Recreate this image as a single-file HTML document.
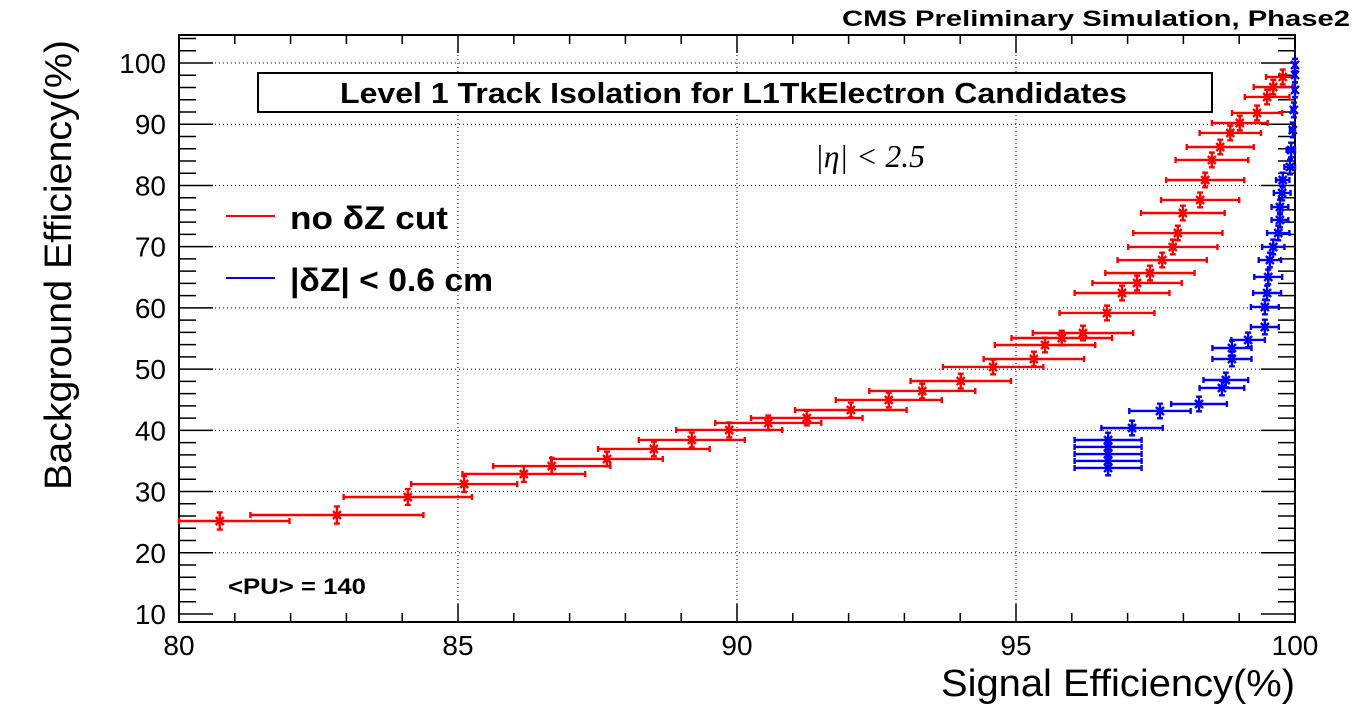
<!DOCTYPE html>
<html><head><meta charset="utf-8"><style>
html,body{margin:0;padding:0;background:#fff;}
svg{display:block;font-family:"Liberation Sans",sans-serif;}
</style></head><body>
<svg id="chart" width="1362" height="716" viewBox="0 0 1362 716">
<text x="842" y="26" textLength="508" lengthAdjust="spacingAndGlyphs" font-size="22" font-weight="bold">CMS Preliminary Simulation, Phase2</text>
<g id="grid"></g>
<g id="axes"></g>
<g id="marks"></g>
<rect x="258" y="73" width="954" height="39" fill="#fff" stroke="#000" stroke-width="2"/>
<text x="340" y="103" textLength="787" lengthAdjust="spacingAndGlyphs" font-size="29" font-weight="bold">Level 1 Track Isolation for L1TkElectron Candidates</text>
<text x="815" y="167" textLength="110" lengthAdjust="spacingAndGlyphs" font-family="Liberation Serif,serif" font-style="italic" font-size="32">|η| &lt; 2.5</text>
<line x1="226" y1="216" x2="275" y2="216" stroke="#f00" stroke-width="2"/>
<text x="290" y="229" textLength="158" lengthAdjust="spacingAndGlyphs" font-size="32" font-weight="bold">no  δZ cut</text>
<line x1="226" y1="278" x2="275" y2="278" stroke="#00f" stroke-width="2"/>
<text x="290" y="291" textLength="203" lengthAdjust="spacingAndGlyphs" font-size="32" font-weight="bold">|δZ| &lt; 0.6 cm</text>
<text x="228" y="594" textLength="138" lengthAdjust="spacingAndGlyphs" font-size="22" font-weight="bold">&lt;PU&gt; = 140</text>
<text transform="translate(71,265) rotate(-90)" text-anchor="middle" textLength="450" lengthAdjust="spacingAndGlyphs" font-size="38">Background Efficiency(%)</text>
<text x="941" y="696" textLength="354" lengthAdjust="spacingAndGlyphs" font-size="38">Signal Efficiency(%)</text>
</svg>
<script>
const xTicks=[80,85,90,95,100];
const yTicks=[10,20,30,40,50,60,70,80,90,100];
const redX=[80.73,82.83,84.10,85.11,86.18,86.68,87.67,88.51,89.19,89.86,90.56,91.25,92.04,92.72,93.32,94.01,94.59,95.32,95.52,95.82,96.20,96.63,96.90,97.17,97.40,97.62,97.81,97.90,97.99,98.30,98.39,98.51,98.66,98.84,99.01,99.32,99.50,99.61,99.78];
const redY=[25.19,26.17,29.11,31.23,32.87,34.17,35.32,36.96,38.43,40.06,41.21,42.02,43.32,44.96,46.43,48.06,50.35,51.65,53.94,55.08,55.90,59.17,62.43,64.07,65.70,67.82,69.95,72.23,75.50,77.63,80.89,84.16,86.28,88.57,90.20,91.84,94.45,96.08,97.72];
const redXErr=[1.25,1.55,1.15,0.95,1.1,1.05,1.0,1.0,0.95,0.95,0.95,1.0,1.0,0.95,0.95,0.9,0.9,0.9,0.9,0.9,0.9,0.85,0.85,0.8,0.8,0.8,0.8,0.8,0.75,0.7,0.7,0.65,0.6,0.55,0.5,0.45,0.4,0.35,0.3];
const redYErr=[1.4,1.4,1.3,1.3,1.3,1.3,1.2,1.2,1.2,1.2,1.2,1.2,1.2,1.2,1.2,1.2,1.2,1.2,1.2,1.2,1.2,1.2,1.2,1.2,1.2,1.2,1.2,1.2,1.2,1.2,1.2,1.2,1.2,1.2,1.2,1.2,1.2,1.2,1.2];
const blueX=[96.65,96.65,96.65,96.65,96.65,97.08,97.58,98.28,98.69,98.76,98.87,98.87,99.16,99.46,99.46,99.50,99.52,99.55,99.61,99.70,99.73,99.73,99.77,99.78,99.91,99.93,99.96,99.98,100,100,100];
const blueY=[33.85,35.0,36.13,37.28,38.42,40.38,43.16,44.30,46.92,48.22,51.65,53.45,54.76,56.88,60.15,62.43,65.05,67.82,69.95,72.23,74.36,76.48,78.77,80.89,83.02,85.79,89.06,92.33,95.6,98.05,99.68];
const blueXErr=[0.6,0.6,0.6,0.6,0.6,0.55,0.55,0.5,0.4,0.4,0.35,0.35,0.3,0.25,0.25,0.25,0.25,0.2,0.2,0.2,0.15,0.15,0.15,0.12,0.1,0.08,0.05,0.04,0.03,0.02,0.02];
const blueYErr=[1.2,1.2,1.2,1.2,1.2,1.2,1.2,1.2,1.2,1.2,1.2,1.2,1.2,1.2,1.2,1.2,1.2,1.2,1.2,1.2,1.2,1.2,1.2,1.2,1.2,1.2,1.2,1.2,1.2,1.2,1.0];

const L=179,R=1295,T=35,B=622;
function X(v){return L+(v-80)*(R-L)/20;}
function Y(v){return 614-(v-10)*(614-63)/90;}
const NS='http://www.w3.org/2000/svg';
function mk(tag,attrs,parent){const e=document.createElementNS(NS,tag);for(const k in attrs)e.setAttribute(k,attrs[k]);parent.appendChild(e);return e;}
const grid=document.getElementById('grid'),axes=document.getElementById('axes'),marks=document.getElementById('marks');
xTicks.forEach(t=>{if(t>80&&t<100){const g=mk('line',{x1:X(t),x2:X(t),y1:T,y2:B,stroke:'#000','stroke-width':1,'stroke-dasharray':'1 3'},grid);

}});
yTicks.forEach(t=>{if(t>10){const g=mk('line',{x1:L,x2:R,y1:Y(t),y2:Y(t),stroke:'#000','stroke-width':1,'stroke-dasharray':'1 3'},grid);

}});
const frame=mk('rect',{x:L,y:T,width:R-L,height:B-T,fill:'none',stroke:'#000','stroke-width':2},axes);


for(let v=80;v<=100;v+=1){const major=v%5===0;const len=major?18:9;
mk('line',{x1:X(v),x2:X(v),y1:B,y2:B-len,stroke:'#000','stroke-width':1.5},axes);
mk('line',{x1:X(v),x2:X(v),y1:T,y2:T+len,stroke:'#000','stroke-width':1.5},axes);}
xTicks.forEach(t=>{const tx=mk('text',{x:X(t),y:655,'text-anchor':'middle','font-size':28},axes);tx.textContent=t;

});
for(let v=10;v<=104;v+=2){const major=v%10===0;const len=major?34:17;
mk('line',{x1:L,x2:L+len,y1:Y(v),y2:Y(v),stroke:'#000','stroke-width':1.5},axes);
mk('line',{x1:R,x2:R-len,y1:Y(v),y2:Y(v),stroke:'#000','stroke-width':1.5},axes);}
yTicks.forEach(t=>{const tx=mk('text',{x:166,y:Y(t)+10,'text-anchor':'end','font-size':28},axes);tx.textContent=t;

});
function series(xs,ys,xe,ye,col,name){
 const g=mk('g',{stroke:col,'stroke-width':2.4,fill:'none'},marks);
 
 
 xs.forEach((x,i)=>{const cx=X(x),cy=Y(ys[i]),x0=X(Math.max(80,x-xe[i])),x1=X(Math.min(100,x+xe[i])),y0=Y(ys[i]-ye[i]),y1=Y(ys[i]+ye[i]);
  const p=mk('path',{d:`M${x0},${cy}H${x1}M${cx},${y0}V${y1}M${x0},${cy-3}v6M${x1},${cy-3}v6M${cx-3},${y0}h6M${cx-3},${y1}h6M${cx-4},${cy-4}l8,8M${cx+4},${cy-4}l-8,8`},g);
  
  });
}
series(redX,redY,redXErr,redYErr,'#f00','series-no-dz-cut');
series(blueX,blueY,blueXErr,blueYErr,'#00f','series-dz-cut');
</script>
</body></html>
